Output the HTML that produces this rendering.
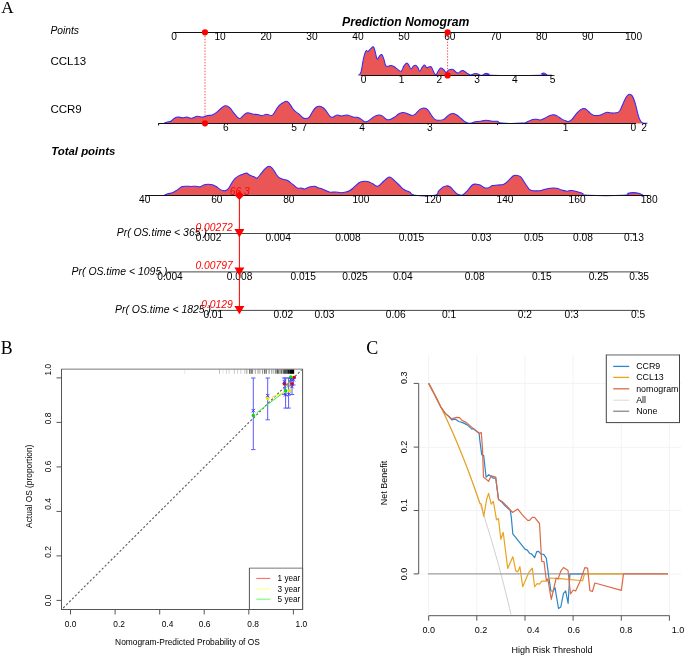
<!DOCTYPE html>
<html lang="en">
<head>
<meta charset="utf-8">
<title>Prediction Nomogram</title>
<style>
html,body{margin:0;padding:0;background:#fff;}
body{width:685px;height:656px;overflow:hidden;}
svg{display:block;font-family:"Liberation Sans",sans-serif;}
</style>
</head>
<body>
<svg width="685" height="656" viewBox="0 0 685 656">
<rect x="0" y="0" width="685" height="656" fill="#fff"/>
<g id="panelA">
<text x="1.2" y="12.7" font-size="17.2px" text-anchor="start" fill="#000" font-family="'Liberation Serif',serif">A</text>
<text x="405.7" y="26.0" font-size="12.2px" text-anchor="middle" fill="#000" font-weight="bold" font-style="italic">Prediction Nomogram</text>
<text x="50.4" y="34.0" font-size="10.3px" text-anchor="start" fill="#000" font-style="italic">Points</text>
<text x="50.4" y="64.8" font-size="11.5px" text-anchor="start" fill="#000">CCL13</text>
<text x="50.4" y="113.0" font-size="11.5px" text-anchor="start" fill="#000">CCR9</text>
<text x="51.2" y="155.4" font-size="11.4px" text-anchor="start" fill="#000" font-weight="bold" font-style="italic">Total points</text>
<path d="M205 33V123" stroke="#ff4a4a" stroke-width="1" stroke-dasharray="1.4 1.5" fill="none"/>
<path d="M447.6 33V75" stroke="#ff4a4a" stroke-width="1" stroke-dasharray="1.4 1.5" fill="none"/>
<path d="M173.6 32.5 H635.0" stroke="#111" stroke-width="1" fill="none"/>
<text x="174.2" y="40.3" font-size="10.2px" text-anchor="middle" fill="#000">0</text>
<text x="220.1" y="40.3" font-size="10.2px" text-anchor="middle" fill="#000">10</text>
<text x="266.1" y="40.3" font-size="10.2px" text-anchor="middle" fill="#000">20</text>
<text x="312.0" y="40.3" font-size="10.2px" text-anchor="middle" fill="#000">30</text>
<text x="358.0" y="40.3" font-size="10.2px" text-anchor="middle" fill="#000">40</text>
<text x="403.9" y="40.3" font-size="10.2px" text-anchor="middle" fill="#000">50</text>
<text x="449.8" y="40.3" font-size="10.2px" text-anchor="middle" fill="#000">60</text>
<text x="495.8" y="40.3" font-size="10.2px" text-anchor="middle" fill="#000">70</text>
<text x="541.7" y="40.3" font-size="10.2px" text-anchor="middle" fill="#000">80</text>
<text x="587.7" y="40.3" font-size="10.2px" text-anchor="middle" fill="#000">90</text>
<text x="633.6" y="40.3" font-size="10.2px" text-anchor="middle" fill="#000">100</text>
<path d="M358.4 75.2C358.9 74.6 360.0 75.4 361.0 72.0C362.0 68.6 362.6 62.2 363.6 58.0C364.6 53.8 365.0 52.3 365.9 51.0C366.8 49.7 367.1 51.8 368.0 51.4C368.9 51.0 369.5 49.8 370.6 48.9C371.7 48.0 372.4 46.4 373.3 46.8C374.2 47.2 374.2 48.6 375.0 51.0C375.8 53.4 376.2 57.8 377.1 58.9C378.0 60.0 378.5 57.2 379.4 56.3C380.3 55.4 380.8 54.0 381.7 54.5C382.6 55.0 383.0 56.6 383.8 58.9C384.6 61.2 384.9 64.5 385.9 65.9C386.9 67.3 387.9 66.0 389.0 65.9C390.1 65.8 390.2 65.4 391.3 65.6C392.4 65.8 393.0 66.0 394.3 66.8C395.6 67.6 396.4 68.5 397.8 69.4C399.2 70.3 400.1 71.9 401.3 71.2C402.5 70.5 402.8 67.6 403.9 65.9C405.0 64.2 405.8 62.9 406.9 62.9C408.0 62.9 408.4 64.7 409.2 65.9C410.0 67.1 410.1 68.9 411.0 68.9C411.9 68.9 412.6 66.6 413.6 65.9C414.6 65.2 415.0 65.0 415.9 65.4C416.8 65.8 417.2 66.5 418.0 67.7C418.8 68.9 418.8 71.3 419.7 71.2C420.6 71.1 421.3 68.3 422.3 67.1C423.3 65.9 423.7 64.9 424.6 65.0C425.5 65.1 425.8 67.3 426.7 67.7C427.6 68.1 428.4 66.9 429.3 66.8C430.2 66.7 430.5 66.1 431.4 67.1C432.3 68.1 432.8 70.5 433.7 72.0C434.6 73.5 435.1 74.9 436.0 74.7C436.9 74.5 437.2 72.5 438.1 71.2C439.0 69.9 439.6 68.4 440.7 68.0C441.8 67.6 442.3 68.5 443.4 69.4C444.5 70.3 445.0 72.3 446.1 72.4C447.2 72.5 447.8 70.5 448.8 69.9C449.8 69.3 450.1 69.5 451.0 69.4C451.9 69.3 452.1 68.9 453.1 69.4C454.1 69.9 454.7 71.3 455.8 72.0C456.9 72.7 457.4 73.1 458.4 72.9C459.4 72.7 459.8 71.7 460.7 71.2C461.6 70.7 461.9 70.4 462.8 70.6C463.7 70.8 464.4 71.4 465.4 72.0C466.4 72.6 466.9 73.2 468.0 73.8C469.1 74.4 469.6 74.9 470.7 75.0C471.8 75.1 472.3 74.4 473.3 74.1C474.3 73.8 474.9 73.4 475.9 73.4C476.9 73.4 477.6 73.9 478.5 74.3C479.4 74.7 479.4 75.1 480.3 75.2C481.2 75.3 482.0 75.3 482.9 75.0C483.8 74.7 483.9 74.1 484.7 73.8C485.5 73.5 486.1 73.3 487.0 73.4C487.9 73.5 488.3 73.9 489.1 74.3C489.9 74.7 480.6 75.0 490.8 75.2C501.0 75.4 529.7 75.5 539.9 75.2C550.1 74.9 540.8 74.2 541.6 73.8C542.4 73.4 542.8 73.0 543.7 73.1C544.6 73.2 545.2 73.7 546.0 74.1C546.8 74.5 546.5 75.0 547.7 75.2C548.9 75.4 551.2 75.2 552.1 75.2L552.1 75.4 L358.4 75.4 Z" fill="#ea5556" stroke="none"/>
<path d="M358.4 75.2C358.9 74.6 360.0 75.4 361.0 72.0C362.0 68.6 362.6 62.2 363.6 58.0C364.6 53.8 365.0 52.3 365.9 51.0C366.8 49.7 367.1 51.8 368.0 51.4C368.9 51.0 369.5 49.8 370.6 48.9C371.7 48.0 372.4 46.4 373.3 46.8C374.2 47.2 374.2 48.6 375.0 51.0C375.8 53.4 376.2 57.8 377.1 58.9C378.0 60.0 378.5 57.2 379.4 56.3C380.3 55.4 380.8 54.0 381.7 54.5C382.6 55.0 383.0 56.6 383.8 58.9C384.6 61.2 384.9 64.5 385.9 65.9C386.9 67.3 387.9 66.0 389.0 65.9C390.1 65.8 390.2 65.4 391.3 65.6C392.4 65.8 393.0 66.0 394.3 66.8C395.6 67.6 396.4 68.5 397.8 69.4C399.2 70.3 400.1 71.9 401.3 71.2C402.5 70.5 402.8 67.6 403.9 65.9C405.0 64.2 405.8 62.9 406.9 62.9C408.0 62.9 408.4 64.7 409.2 65.9C410.0 67.1 410.1 68.9 411.0 68.9C411.9 68.9 412.6 66.6 413.6 65.9C414.6 65.2 415.0 65.0 415.9 65.4C416.8 65.8 417.2 66.5 418.0 67.7C418.8 68.9 418.8 71.3 419.7 71.2C420.6 71.1 421.3 68.3 422.3 67.1C423.3 65.9 423.7 64.9 424.6 65.0C425.5 65.1 425.8 67.3 426.7 67.7C427.6 68.1 428.4 66.9 429.3 66.8C430.2 66.7 430.5 66.1 431.4 67.1C432.3 68.1 432.8 70.5 433.7 72.0C434.6 73.5 435.1 74.9 436.0 74.7C436.9 74.5 437.2 72.5 438.1 71.2C439.0 69.9 439.6 68.4 440.7 68.0C441.8 67.6 442.3 68.5 443.4 69.4C444.5 70.3 445.0 72.3 446.1 72.4C447.2 72.5 447.8 70.5 448.8 69.9C449.8 69.3 450.1 69.5 451.0 69.4C451.9 69.3 452.1 68.9 453.1 69.4C454.1 69.9 454.7 71.3 455.8 72.0C456.9 72.7 457.4 73.1 458.4 72.9C459.4 72.7 459.8 71.7 460.7 71.2C461.6 70.7 461.9 70.4 462.8 70.6C463.7 70.8 464.4 71.4 465.4 72.0C466.4 72.6 466.9 73.2 468.0 73.8C469.1 74.4 469.6 74.9 470.7 75.0C471.8 75.1 472.3 74.4 473.3 74.1C474.3 73.8 474.9 73.4 475.9 73.4C476.9 73.4 477.6 73.9 478.5 74.3C479.4 74.7 479.4 75.1 480.3 75.2C481.2 75.3 482.0 75.3 482.9 75.0C483.8 74.7 483.9 74.1 484.7 73.8C485.5 73.5 486.1 73.3 487.0 73.4C487.9 73.5 488.3 73.9 489.1 74.3C489.9 74.7 480.6 75.0 490.8 75.2C501.0 75.4 529.7 75.5 539.9 75.2C550.1 74.9 540.8 74.2 541.6 73.8C542.4 73.4 542.8 73.0 543.7 73.1C544.6 73.2 545.2 73.7 546.0 74.1C546.8 74.5 546.5 75.0 547.7 75.2C548.9 75.4 551.2 75.2 552.1 75.2" fill="none" stroke="#2f2aff" stroke-width="1.05"/>
<path d="M360.7 75.5 H552.6" stroke="#111" stroke-width="1" fill="none"/>
<text x="363.7" y="83.2" font-size="10.2px" text-anchor="middle" fill="#000">0</text>
<text x="401.5" y="83.2" font-size="10.2px" text-anchor="middle" fill="#000">1</text>
<text x="439.3" y="83.2" font-size="10.2px" text-anchor="middle" fill="#000">2</text>
<text x="477.1" y="83.2" font-size="10.2px" text-anchor="middle" fill="#000">3</text>
<text x="514.9" y="83.2" font-size="10.2px" text-anchor="middle" fill="#000">4</text>
<text x="552.7" y="83.2" font-size="10.2px" text-anchor="middle" fill="#000">5</text>
<path d="M164.0 123.1C164.7 122.9 166.1 122.4 167.5 122.0C168.9 121.6 169.6 122.0 171.0 121.2C172.4 120.4 173.1 119.0 174.5 118.2C175.9 117.4 176.4 117.2 178.0 117.1C179.6 117.0 180.6 117.7 182.4 117.7C184.2 117.7 184.9 117.0 186.8 117.1C188.7 117.2 189.9 118.4 192.0 118.2C194.1 118.0 195.2 116.5 197.3 116.3C199.4 116.1 200.5 117.2 202.6 117.1C204.7 117.0 205.9 116.0 207.8 115.6C209.7 115.2 210.4 115.6 212.2 115.0C214.0 114.4 214.7 113.9 216.6 112.4C218.5 110.9 220.0 109.0 221.8 107.7C223.6 106.4 224.1 105.8 225.7 105.8C227.3 105.8 228.0 106.2 229.7 107.7C231.4 109.2 232.5 111.4 234.1 113.3C235.7 115.2 236.4 116.3 237.6 117.3C238.8 118.3 238.8 118.8 239.9 118.5C241.0 118.2 241.7 116.9 242.9 115.9C244.1 114.9 244.8 113.9 246.0 113.3C247.2 112.7 247.5 112.7 249.0 112.9C250.5 113.1 251.7 113.9 253.4 114.2C255.1 114.5 256.0 114.2 257.7 114.5C259.4 114.8 260.3 115.7 262.1 115.6C263.9 115.5 264.6 114.2 266.5 114.2C268.4 114.2 269.9 115.6 271.4 115.4C272.9 115.2 272.6 115.1 274.0 113.3C275.4 111.5 276.6 108.4 278.4 106.3C280.2 104.2 281.2 103.8 282.8 102.8C284.4 101.8 285.1 101.2 286.3 101.2C287.5 101.2 287.7 101.4 288.9 102.8C290.1 104.2 291.2 106.3 292.4 108.0C293.6 109.7 293.8 110.1 295.0 111.2C296.2 112.3 296.9 112.3 298.5 113.6C300.1 114.9 301.5 116.7 302.9 117.7C304.3 118.7 304.3 118.6 305.5 118.5C306.7 118.4 307.7 118.7 309.1 117.3C310.5 115.9 311.2 113.5 312.6 111.5C314.0 109.5 314.7 108.2 316.1 107.2C317.5 106.2 318.2 106.2 319.6 106.3C321.0 106.4 321.7 106.7 323.1 107.7C324.5 108.7 325.2 109.8 326.6 111.5C328.0 113.2 328.9 115.2 330.1 116.4C331.3 117.6 331.3 117.6 332.7 117.3C334.1 117.0 335.3 115.3 337.1 115.0C338.9 114.7 339.6 115.9 341.5 115.9C343.4 115.9 344.8 114.9 346.7 115.0C348.6 115.1 349.7 115.8 351.1 116.3C352.5 116.8 352.5 117.1 353.7 117.3C354.9 117.5 355.8 117.0 357.2 117.3C358.6 117.6 359.3 118.1 360.7 118.9C362.1 119.7 363.0 121.0 364.2 121.5C365.4 122.0 365.7 121.9 366.9 121.5C368.1 121.1 368.9 120.4 370.4 119.4C371.9 118.4 372.7 117.3 374.4 116.4C376.1 115.5 377.2 115.1 378.8 115.0C380.4 114.9 380.7 115.0 382.3 115.9C383.9 116.8 385.0 118.7 386.6 119.4C388.2 120.1 388.5 119.9 390.1 119.4C391.7 118.9 392.7 118.2 394.5 117.1C396.3 116.0 397.1 114.7 398.9 113.8C400.7 112.9 401.5 112.4 403.3 112.4C405.1 112.4 406.0 113.2 407.7 113.8C409.4 114.4 410.4 115.4 412.0 115.4C413.6 115.4 414.0 115.0 415.6 113.8C417.2 112.6 418.2 110.6 419.9 109.4C421.6 108.2 422.4 107.9 424.0 108.0C425.6 108.1 426.3 108.4 427.8 109.8C429.3 111.2 429.9 113.1 431.3 115.0C432.7 116.9 433.4 118.3 434.8 119.4C436.2 120.5 436.5 120.3 438.3 120.3C440.1 120.3 441.7 120.3 443.6 119.4C445.5 118.5 446.3 116.8 448.0 115.6C449.7 114.4 450.6 113.7 452.3 113.6C454.0 113.5 454.9 114.0 456.7 115.0C458.5 116.0 459.3 117.1 461.1 118.5C462.9 119.9 464.1 121.1 465.5 122.0C466.9 122.9 466.9 122.9 468.1 123.1C469.3 123.3 470.2 123.4 471.6 123.1C473.0 122.8 473.3 122.1 475.1 121.7C476.9 121.3 478.2 121.5 480.4 121.2C482.6 120.9 483.7 120.3 486.1 120.3C488.5 120.3 490.0 121.0 492.3 121.2C494.6 121.4 495.6 120.9 497.5 121.3C499.4 121.7 497.0 122.7 501.9 123.1C506.8 123.5 516.9 123.4 522.0 123.1C527.1 122.8 525.2 122.4 527.3 121.7C529.4 121.0 530.8 120.1 532.6 119.6C534.4 119.1 534.5 119.1 536.1 119.2C537.7 119.3 538.7 120.1 540.4 119.9C542.1 119.7 542.9 119.1 544.8 118.2C546.7 117.3 548.3 116.1 550.1 115.4C551.9 114.7 552.2 114.6 553.6 114.7C555.0 114.8 555.5 115.1 557.1 115.9C558.7 116.7 559.8 117.9 561.5 118.9C563.2 119.9 564.4 120.3 565.8 120.8C567.2 121.3 567.3 121.8 568.5 121.5C569.7 121.2 570.4 121.0 572.0 119.4C573.6 117.8 574.7 115.6 576.4 113.6C578.1 111.6 579.2 110.6 580.7 109.6C582.2 108.6 582.8 108.4 584.0 108.4C585.2 108.4 585.6 108.8 586.9 109.8C588.2 110.8 588.9 112.2 590.4 113.3C591.9 114.4 592.4 115.1 594.4 115.4C596.4 115.7 598.1 115.6 600.5 115.0C602.9 114.4 604.0 112.8 606.2 112.4C608.4 112.0 609.0 113.0 611.4 112.9C613.8 112.8 616.3 113.4 618.4 112.1C620.5 110.8 620.5 109.0 621.9 106.3C623.3 103.6 624.2 100.7 625.4 98.4C626.6 96.1 627.2 95.7 628.1 94.9C629.0 94.1 628.9 94.2 629.8 94.4C630.7 94.6 631.3 94.4 632.4 96.1C633.5 97.8 634.0 99.4 635.1 102.8C636.2 106.2 636.7 109.7 637.7 113.3C638.7 116.9 639.2 118.6 640.3 120.6C641.4 122.6 641.6 122.6 643.0 123.1C644.4 123.6 646.4 123.1 647.3 123.1L647.3 123.4 L164.0 123.4 Z" fill="#ea5556" stroke="none"/>
<path d="M164.0 123.1C164.7 122.9 166.1 122.4 167.5 122.0C168.9 121.6 169.6 122.0 171.0 121.2C172.4 120.4 173.1 119.0 174.5 118.2C175.9 117.4 176.4 117.2 178.0 117.1C179.6 117.0 180.6 117.7 182.4 117.7C184.2 117.7 184.9 117.0 186.8 117.1C188.7 117.2 189.9 118.4 192.0 118.2C194.1 118.0 195.2 116.5 197.3 116.3C199.4 116.1 200.5 117.2 202.6 117.1C204.7 117.0 205.9 116.0 207.8 115.6C209.7 115.2 210.4 115.6 212.2 115.0C214.0 114.4 214.7 113.9 216.6 112.4C218.5 110.9 220.0 109.0 221.8 107.7C223.6 106.4 224.1 105.8 225.7 105.8C227.3 105.8 228.0 106.2 229.7 107.7C231.4 109.2 232.5 111.4 234.1 113.3C235.7 115.2 236.4 116.3 237.6 117.3C238.8 118.3 238.8 118.8 239.9 118.5C241.0 118.2 241.7 116.9 242.9 115.9C244.1 114.9 244.8 113.9 246.0 113.3C247.2 112.7 247.5 112.7 249.0 112.9C250.5 113.1 251.7 113.9 253.4 114.2C255.1 114.5 256.0 114.2 257.7 114.5C259.4 114.8 260.3 115.7 262.1 115.6C263.9 115.5 264.6 114.2 266.5 114.2C268.4 114.2 269.9 115.6 271.4 115.4C272.9 115.2 272.6 115.1 274.0 113.3C275.4 111.5 276.6 108.4 278.4 106.3C280.2 104.2 281.2 103.8 282.8 102.8C284.4 101.8 285.1 101.2 286.3 101.2C287.5 101.2 287.7 101.4 288.9 102.8C290.1 104.2 291.2 106.3 292.4 108.0C293.6 109.7 293.8 110.1 295.0 111.2C296.2 112.3 296.9 112.3 298.5 113.6C300.1 114.9 301.5 116.7 302.9 117.7C304.3 118.7 304.3 118.6 305.5 118.5C306.7 118.4 307.7 118.7 309.1 117.3C310.5 115.9 311.2 113.5 312.6 111.5C314.0 109.5 314.7 108.2 316.1 107.2C317.5 106.2 318.2 106.2 319.6 106.3C321.0 106.4 321.7 106.7 323.1 107.7C324.5 108.7 325.2 109.8 326.6 111.5C328.0 113.2 328.9 115.2 330.1 116.4C331.3 117.6 331.3 117.6 332.7 117.3C334.1 117.0 335.3 115.3 337.1 115.0C338.9 114.7 339.6 115.9 341.5 115.9C343.4 115.9 344.8 114.9 346.7 115.0C348.6 115.1 349.7 115.8 351.1 116.3C352.5 116.8 352.5 117.1 353.7 117.3C354.9 117.5 355.8 117.0 357.2 117.3C358.6 117.6 359.3 118.1 360.7 118.9C362.1 119.7 363.0 121.0 364.2 121.5C365.4 122.0 365.7 121.9 366.9 121.5C368.1 121.1 368.9 120.4 370.4 119.4C371.9 118.4 372.7 117.3 374.4 116.4C376.1 115.5 377.2 115.1 378.8 115.0C380.4 114.9 380.7 115.0 382.3 115.9C383.9 116.8 385.0 118.7 386.6 119.4C388.2 120.1 388.5 119.9 390.1 119.4C391.7 118.9 392.7 118.2 394.5 117.1C396.3 116.0 397.1 114.7 398.9 113.8C400.7 112.9 401.5 112.4 403.3 112.4C405.1 112.4 406.0 113.2 407.7 113.8C409.4 114.4 410.4 115.4 412.0 115.4C413.6 115.4 414.0 115.0 415.6 113.8C417.2 112.6 418.2 110.6 419.9 109.4C421.6 108.2 422.4 107.9 424.0 108.0C425.6 108.1 426.3 108.4 427.8 109.8C429.3 111.2 429.9 113.1 431.3 115.0C432.7 116.9 433.4 118.3 434.8 119.4C436.2 120.5 436.5 120.3 438.3 120.3C440.1 120.3 441.7 120.3 443.6 119.4C445.5 118.5 446.3 116.8 448.0 115.6C449.7 114.4 450.6 113.7 452.3 113.6C454.0 113.5 454.9 114.0 456.7 115.0C458.5 116.0 459.3 117.1 461.1 118.5C462.9 119.9 464.1 121.1 465.5 122.0C466.9 122.9 466.9 122.9 468.1 123.1C469.3 123.3 470.2 123.4 471.6 123.1C473.0 122.8 473.3 122.1 475.1 121.7C476.9 121.3 478.2 121.5 480.4 121.2C482.6 120.9 483.7 120.3 486.1 120.3C488.5 120.3 490.0 121.0 492.3 121.2C494.6 121.4 495.6 120.9 497.5 121.3C499.4 121.7 497.0 122.7 501.9 123.1C506.8 123.5 516.9 123.4 522.0 123.1C527.1 122.8 525.2 122.4 527.3 121.7C529.4 121.0 530.8 120.1 532.6 119.6C534.4 119.1 534.5 119.1 536.1 119.2C537.7 119.3 538.7 120.1 540.4 119.9C542.1 119.7 542.9 119.1 544.8 118.2C546.7 117.3 548.3 116.1 550.1 115.4C551.9 114.7 552.2 114.6 553.6 114.7C555.0 114.8 555.5 115.1 557.1 115.9C558.7 116.7 559.8 117.9 561.5 118.9C563.2 119.9 564.4 120.3 565.8 120.8C567.2 121.3 567.3 121.8 568.5 121.5C569.7 121.2 570.4 121.0 572.0 119.4C573.6 117.8 574.7 115.6 576.4 113.6C578.1 111.6 579.2 110.6 580.7 109.6C582.2 108.6 582.8 108.4 584.0 108.4C585.2 108.4 585.6 108.8 586.9 109.8C588.2 110.8 588.9 112.2 590.4 113.3C591.9 114.4 592.4 115.1 594.4 115.4C596.4 115.7 598.1 115.6 600.5 115.0C602.9 114.4 604.0 112.8 606.2 112.4C608.4 112.0 609.0 113.0 611.4 112.9C613.8 112.8 616.3 113.4 618.4 112.1C620.5 110.8 620.5 109.0 621.9 106.3C623.3 103.6 624.2 100.7 625.4 98.4C626.6 96.1 627.2 95.7 628.1 94.9C629.0 94.1 628.9 94.2 629.8 94.4C630.7 94.6 631.3 94.4 632.4 96.1C633.5 97.8 634.0 99.4 635.1 102.8C636.2 106.2 636.7 109.7 637.7 113.3C638.7 116.9 639.2 118.6 640.3 120.6C641.4 122.6 641.6 122.6 643.0 123.1C644.4 123.6 646.4 123.1 647.3 123.1" fill="none" stroke="#2f2aff" stroke-width="1.05"/>
<path d="M158.2 123.5 H636.0" stroke="#111" stroke-width="1" fill="none"/>
<path d="M158.6 123.5v2" stroke="#111" stroke-width="1" fill="none"/>
<path d="M497.5 123.5v1.6" stroke="#111" stroke-width="1" fill="none"/>
<text x="225.9" y="131.2" font-size="10.2px" text-anchor="middle" fill="#000">6</text>
<text x="294.0" y="131.2" font-size="10.2px" text-anchor="middle" fill="#000">5</text>
<text x="304.3" y="131.2" font-size="10.2px" text-anchor="middle" fill="#000">7</text>
<text x="362.0" y="131.2" font-size="10.2px" text-anchor="middle" fill="#000">4</text>
<text x="429.9" y="131.2" font-size="10.2px" text-anchor="middle" fill="#000">3</text>
<text x="565.5" y="131.2" font-size="10.2px" text-anchor="middle" fill="#000">1</text>
<text x="633.3" y="131.2" font-size="10.2px" text-anchor="middle" fill="#000">0</text>
<text x="644.0" y="131.2" font-size="10.2px" text-anchor="middle" fill="#000">2</text>
<path d="M164.2 195.2C164.9 194.9 166.0 194.3 167.7 193.8C169.4 193.3 171.0 193.4 172.9 192.6C174.8 191.8 175.5 191.1 177.3 189.9C179.1 188.7 179.9 187.5 181.7 186.8C183.5 186.1 184.2 186.4 186.1 186.3C188.0 186.2 189.4 186.4 191.3 186.4C193.2 186.4 193.9 186.2 195.7 186.3C197.5 186.4 198.5 187.1 200.1 186.8C201.7 186.5 202.0 185.5 203.6 185.0C205.2 184.5 206.3 184.3 208.0 184.2C209.7 184.1 210.7 184.3 212.3 184.7C213.9 185.1 214.4 185.5 215.8 186.3C217.2 187.1 218.0 188.0 219.4 188.9C220.8 189.8 221.5 190.3 222.9 190.6C224.3 190.9 225.2 190.9 226.4 190.3C227.6 189.7 228.0 189.1 229.0 187.7C230.0 186.3 230.4 185.2 231.6 183.3C232.8 181.4 233.5 180.0 235.1 178.4C236.7 176.8 237.8 176.3 239.5 175.4C241.2 174.5 242.1 174.5 243.5 174.0C244.9 173.5 245.5 172.9 246.7 173.1C247.9 173.3 248.1 174.4 249.6 175.1C251.1 175.8 252.5 176.2 254.0 176.8C255.5 177.4 255.8 178.6 257.2 178.0C258.6 177.4 259.4 175.6 261.0 173.7C262.6 171.8 263.8 169.9 265.4 168.4C267.0 166.9 267.5 166.3 268.9 166.3C270.3 166.3 271.0 166.9 272.4 168.4C273.8 169.9 274.7 171.9 275.9 173.7C277.1 175.5 277.1 176.1 278.5 177.2C279.9 178.3 281.1 178.7 282.9 179.3C284.7 179.9 285.7 179.6 287.3 180.3C288.9 181.0 289.4 181.7 290.8 182.8C292.2 183.9 292.9 184.5 294.3 185.6C295.7 186.7 296.4 187.7 297.8 188.2C299.2 188.7 299.9 187.9 301.3 188.0C302.7 188.1 303.2 189.1 304.8 188.9C306.4 188.7 307.3 187.6 309.2 187.1C311.1 186.6 312.7 186.2 314.5 186.3C316.3 186.4 316.4 187.2 318.0 187.7C319.6 188.2 320.7 188.3 322.3 188.9C323.9 189.5 324.2 189.9 325.8 190.6C327.4 191.3 328.3 191.9 330.2 192.2C332.1 192.5 333.4 191.9 335.5 192.0C337.6 192.1 338.6 192.7 340.7 192.7C342.8 192.7 344.2 192.4 346.0 192.0C347.8 191.6 348.1 191.6 349.5 190.8C350.9 190.0 351.8 189.2 353.0 188.2C354.2 187.2 353.8 187.1 355.3 185.9C356.8 184.7 358.1 183.0 360.5 182.1C362.9 181.2 365.0 181.2 367.5 181.5C370.0 181.8 370.7 182.8 372.8 183.8C374.9 184.8 375.9 186.8 378.0 186.3C380.1 185.8 381.4 183.2 383.3 181.5C385.2 179.8 386.3 178.6 387.7 177.7C389.1 176.8 389.1 176.8 390.3 177.2C391.5 177.6 392.0 178.2 393.8 179.8C395.6 181.4 397.0 183.0 399.1 185.0C401.2 187.0 402.2 188.4 404.3 189.8C406.4 191.2 407.5 190.9 409.6 192.0C411.7 193.1 409.7 194.6 414.8 195.2C419.9 195.8 430.3 196.0 435.0 195.2C439.7 194.4 436.9 192.8 438.5 191.2C440.1 189.6 441.3 188.2 442.9 187.1C444.5 186.0 445.0 186.0 446.4 185.9C447.8 185.8 448.5 185.9 449.9 186.8C451.3 187.7 452.0 188.9 453.4 190.3C454.8 191.7 455.5 192.9 456.9 193.8C458.3 194.7 459.2 194.8 460.4 195.0C461.6 195.2 461.7 195.5 463.0 194.7C464.3 193.9 465.1 193.1 467.0 191.2C468.9 189.3 470.4 186.4 472.3 185.0C474.2 183.6 475.0 184.2 476.6 184.2C478.2 184.2 478.5 184.3 480.1 185.0C481.7 185.7 482.9 187.1 484.5 187.7C486.1 188.3 486.4 188.4 488.0 188.0C489.6 187.6 490.5 186.2 492.4 185.6C494.3 185.0 495.4 185.3 497.7 185.0C500.0 184.7 501.5 185.2 503.8 184.2C506.1 183.2 507.2 181.5 509.1 179.8C511.0 178.1 512.0 176.7 513.4 175.8C514.8 174.9 514.7 175.2 516.1 175.4C517.5 175.6 518.8 175.4 520.4 176.6C522.0 177.8 522.5 179.5 523.9 181.5C525.3 183.5 526.1 185.0 527.5 186.8C528.9 188.6 528.7 189.5 531.0 190.3C533.3 191.1 536.2 190.9 538.8 190.8C541.4 190.7 541.8 190.1 544.1 189.6C546.4 189.1 547.7 188.5 550.2 188.2C552.7 187.9 554.1 187.9 556.4 188.2C558.7 188.5 559.5 189.3 561.6 189.9C563.7 190.5 565.0 191.1 566.9 191.2C568.8 191.3 569.1 190.4 571.2 190.5C573.3 190.6 575.0 191.1 577.3 191.7C579.6 192.3 580.4 192.7 582.5 193.4C584.6 194.1 579.6 194.8 587.8 195.2C596.0 195.6 615.6 195.6 623.7 195.2C631.8 194.8 626.2 193.8 628.1 193.3C630.0 192.8 631.2 192.6 633.3 192.6C635.4 192.6 636.7 192.8 638.6 193.3C640.5 193.8 642.1 194.8 643.0 195.2L643.0 195.4 L164.2 195.4 Z" fill="#ea5556" stroke="none"/>
<path d="M164.2 195.2C164.9 194.9 166.0 194.3 167.7 193.8C169.4 193.3 171.0 193.4 172.9 192.6C174.8 191.8 175.5 191.1 177.3 189.9C179.1 188.7 179.9 187.5 181.7 186.8C183.5 186.1 184.2 186.4 186.1 186.3C188.0 186.2 189.4 186.4 191.3 186.4C193.2 186.4 193.9 186.2 195.7 186.3C197.5 186.4 198.5 187.1 200.1 186.8C201.7 186.5 202.0 185.5 203.6 185.0C205.2 184.5 206.3 184.3 208.0 184.2C209.7 184.1 210.7 184.3 212.3 184.7C213.9 185.1 214.4 185.5 215.8 186.3C217.2 187.1 218.0 188.0 219.4 188.9C220.8 189.8 221.5 190.3 222.9 190.6C224.3 190.9 225.2 190.9 226.4 190.3C227.6 189.7 228.0 189.1 229.0 187.7C230.0 186.3 230.4 185.2 231.6 183.3C232.8 181.4 233.5 180.0 235.1 178.4C236.7 176.8 237.8 176.3 239.5 175.4C241.2 174.5 242.1 174.5 243.5 174.0C244.9 173.5 245.5 172.9 246.7 173.1C247.9 173.3 248.1 174.4 249.6 175.1C251.1 175.8 252.5 176.2 254.0 176.8C255.5 177.4 255.8 178.6 257.2 178.0C258.6 177.4 259.4 175.6 261.0 173.7C262.6 171.8 263.8 169.9 265.4 168.4C267.0 166.9 267.5 166.3 268.9 166.3C270.3 166.3 271.0 166.9 272.4 168.4C273.8 169.9 274.7 171.9 275.9 173.7C277.1 175.5 277.1 176.1 278.5 177.2C279.9 178.3 281.1 178.7 282.9 179.3C284.7 179.9 285.7 179.6 287.3 180.3C288.9 181.0 289.4 181.7 290.8 182.8C292.2 183.9 292.9 184.5 294.3 185.6C295.7 186.7 296.4 187.7 297.8 188.2C299.2 188.7 299.9 187.9 301.3 188.0C302.7 188.1 303.2 189.1 304.8 188.9C306.4 188.7 307.3 187.6 309.2 187.1C311.1 186.6 312.7 186.2 314.5 186.3C316.3 186.4 316.4 187.2 318.0 187.7C319.6 188.2 320.7 188.3 322.3 188.9C323.9 189.5 324.2 189.9 325.8 190.6C327.4 191.3 328.3 191.9 330.2 192.2C332.1 192.5 333.4 191.9 335.5 192.0C337.6 192.1 338.6 192.7 340.7 192.7C342.8 192.7 344.2 192.4 346.0 192.0C347.8 191.6 348.1 191.6 349.5 190.8C350.9 190.0 351.8 189.2 353.0 188.2C354.2 187.2 353.8 187.1 355.3 185.9C356.8 184.7 358.1 183.0 360.5 182.1C362.9 181.2 365.0 181.2 367.5 181.5C370.0 181.8 370.7 182.8 372.8 183.8C374.9 184.8 375.9 186.8 378.0 186.3C380.1 185.8 381.4 183.2 383.3 181.5C385.2 179.8 386.3 178.6 387.7 177.7C389.1 176.8 389.1 176.8 390.3 177.2C391.5 177.6 392.0 178.2 393.8 179.8C395.6 181.4 397.0 183.0 399.1 185.0C401.2 187.0 402.2 188.4 404.3 189.8C406.4 191.2 407.5 190.9 409.6 192.0C411.7 193.1 409.7 194.6 414.8 195.2C419.9 195.8 430.3 196.0 435.0 195.2C439.7 194.4 436.9 192.8 438.5 191.2C440.1 189.6 441.3 188.2 442.9 187.1C444.5 186.0 445.0 186.0 446.4 185.9C447.8 185.8 448.5 185.9 449.9 186.8C451.3 187.7 452.0 188.9 453.4 190.3C454.8 191.7 455.5 192.9 456.9 193.8C458.3 194.7 459.2 194.8 460.4 195.0C461.6 195.2 461.7 195.5 463.0 194.7C464.3 193.9 465.1 193.1 467.0 191.2C468.9 189.3 470.4 186.4 472.3 185.0C474.2 183.6 475.0 184.2 476.6 184.2C478.2 184.2 478.5 184.3 480.1 185.0C481.7 185.7 482.9 187.1 484.5 187.7C486.1 188.3 486.4 188.4 488.0 188.0C489.6 187.6 490.5 186.2 492.4 185.6C494.3 185.0 495.4 185.3 497.7 185.0C500.0 184.7 501.5 185.2 503.8 184.2C506.1 183.2 507.2 181.5 509.1 179.8C511.0 178.1 512.0 176.7 513.4 175.8C514.8 174.9 514.7 175.2 516.1 175.4C517.5 175.6 518.8 175.4 520.4 176.6C522.0 177.8 522.5 179.5 523.9 181.5C525.3 183.5 526.1 185.0 527.5 186.8C528.9 188.6 528.7 189.5 531.0 190.3C533.3 191.1 536.2 190.9 538.8 190.8C541.4 190.7 541.8 190.1 544.1 189.6C546.4 189.1 547.7 188.5 550.2 188.2C552.7 187.9 554.1 187.9 556.4 188.2C558.7 188.5 559.5 189.3 561.6 189.9C563.7 190.5 565.0 191.1 566.9 191.2C568.8 191.3 569.1 190.4 571.2 190.5C573.3 190.6 575.0 191.1 577.3 191.7C579.6 192.3 580.4 192.7 582.5 193.4C584.6 194.1 579.6 194.8 587.8 195.2C596.0 195.6 615.6 195.6 623.7 195.2C631.8 194.8 626.2 193.8 628.1 193.3C630.0 192.8 631.2 192.6 633.3 192.6C635.4 192.6 636.7 192.8 638.6 193.3C640.5 193.8 642.1 194.8 643.0 195.2" fill="none" stroke="#2f2aff" stroke-width="1.05"/>
<path d="M144.9 195.5 H649.3" stroke="#111" stroke-width="1" fill="none"/>
<text x="144.7" y="203.2" font-size="10.2px" text-anchor="middle" fill="#000">40</text>
<text x="216.8" y="203.2" font-size="10.2px" text-anchor="middle" fill="#000">60</text>
<text x="288.8" y="203.2" font-size="10.2px" text-anchor="middle" fill="#000">80</text>
<text x="360.9" y="203.2" font-size="10.2px" text-anchor="middle" fill="#000">100</text>
<text x="433.0" y="203.2" font-size="10.2px" text-anchor="middle" fill="#000">120</text>
<text x="505.0" y="203.2" font-size="10.2px" text-anchor="middle" fill="#000">140</text>
<text x="577.1" y="203.2" font-size="10.2px" text-anchor="middle" fill="#000">160</text>
<text x="649.2" y="203.2" font-size="10.2px" text-anchor="middle" fill="#000">180</text>
<path d="M207.5 233.5 H634.3" stroke="#333" stroke-width="0.9" fill="none"/>
<path d="M208.6 233.5v2" stroke="#333" stroke-width="0.9" fill="none"/>
<text x="208.6" y="241.4" font-size="10.2px" text-anchor="middle" fill="#000">0.002</text>
<path d="M278.2 233.5v2" stroke="#333" stroke-width="0.9" fill="none"/>
<text x="278.2" y="241.4" font-size="10.2px" text-anchor="middle" fill="#000">0.004</text>
<path d="M347.9 233.5v2" stroke="#333" stroke-width="0.9" fill="none"/>
<text x="347.9" y="241.4" font-size="10.2px" text-anchor="middle" fill="#000">0.008</text>
<path d="M411.4 233.5v2" stroke="#333" stroke-width="0.9" fill="none"/>
<text x="411.4" y="241.4" font-size="10.2px" text-anchor="middle" fill="#000">0.015</text>
<path d="M481.4 233.5v2" stroke="#333" stroke-width="0.9" fill="none"/>
<text x="481.4" y="241.4" font-size="10.2px" text-anchor="middle" fill="#000">0.03</text>
<path d="M533.8 233.5v2" stroke="#333" stroke-width="0.9" fill="none"/>
<text x="533.8" y="241.4" font-size="10.2px" text-anchor="middle" fill="#000">0.05</text>
<path d="M582.9 233.5v2" stroke="#333" stroke-width="0.9" fill="none"/>
<text x="582.9" y="241.4" font-size="10.2px" text-anchor="middle" fill="#000">0.08</text>
<path d="M634.0 233.5v2" stroke="#333" stroke-width="0.9" fill="none"/>
<text x="634.0" y="241.4" font-size="10.2px" text-anchor="middle" fill="#000">0.13</text>
<text x="206.9" y="236.4" font-size="10.45px" text-anchor="end" fill="#000" font-style="italic">Pr( OS.time &lt; 365 )</text>
<path d="M167.5 271.9 H639.7" stroke="#333" stroke-width="0.9" fill="none"/>
<path d="M170.0 271.9v2" stroke="#333" stroke-width="0.9" fill="none"/>
<text x="170.0" y="279.8" font-size="10.2px" text-anchor="middle" fill="#000">0.004</text>
<path d="M239.6 271.9v2" stroke="#333" stroke-width="0.9" fill="none"/>
<text x="239.6" y="279.8" font-size="10.2px" text-anchor="middle" fill="#000">0.008</text>
<path d="M303.2 271.9v2" stroke="#333" stroke-width="0.9" fill="none"/>
<text x="303.2" y="279.8" font-size="10.2px" text-anchor="middle" fill="#000">0.015</text>
<path d="M354.9 271.9v2" stroke="#333" stroke-width="0.9" fill="none"/>
<text x="354.9" y="279.8" font-size="10.2px" text-anchor="middle" fill="#000">0.025</text>
<path d="M402.8 271.9v2" stroke="#333" stroke-width="0.9" fill="none"/>
<text x="402.8" y="279.8" font-size="10.2px" text-anchor="middle" fill="#000">0.04</text>
<path d="M474.7 271.9v2" stroke="#333" stroke-width="0.9" fill="none"/>
<text x="474.7" y="279.8" font-size="10.2px" text-anchor="middle" fill="#000">0.08</text>
<path d="M541.8 271.9v2" stroke="#333" stroke-width="0.9" fill="none"/>
<text x="541.8" y="279.8" font-size="10.2px" text-anchor="middle" fill="#000">0.15</text>
<path d="M598.6 271.9v2" stroke="#333" stroke-width="0.9" fill="none"/>
<text x="598.6" y="279.8" font-size="10.2px" text-anchor="middle" fill="#000">0.25</text>
<path d="M639.1 271.9v2" stroke="#333" stroke-width="0.9" fill="none"/>
<text x="639.1" y="279.8" font-size="10.2px" text-anchor="middle" fill="#000">0.35</text>
<text x="167.6" y="274.8" font-size="10.45px" text-anchor="end" fill="#000" font-style="italic">Pr( OS.time &lt; 1095 )</text>
<path d="M211.0 310.4 H638.2" stroke="#333" stroke-width="0.9" fill="none"/>
<path d="M213.3 310.4v2" stroke="#333" stroke-width="0.9" fill="none"/>
<text x="213.3" y="318.3" font-size="10.2px" text-anchor="middle" fill="#000">0.01</text>
<path d="M283.3 310.4v2" stroke="#333" stroke-width="0.9" fill="none"/>
<text x="283.3" y="318.3" font-size="10.2px" text-anchor="middle" fill="#000">0.02</text>
<path d="M324.4 310.4v2" stroke="#333" stroke-width="0.9" fill="none"/>
<text x="324.4" y="318.3" font-size="10.2px" text-anchor="middle" fill="#000">0.03</text>
<path d="M395.7 310.4v2" stroke="#333" stroke-width="0.9" fill="none"/>
<text x="395.7" y="318.3" font-size="10.2px" text-anchor="middle" fill="#000">0.06</text>
<path d="M449.0 310.4v2" stroke="#333" stroke-width="0.9" fill="none"/>
<text x="449.0" y="318.3" font-size="10.2px" text-anchor="middle" fill="#000">0.1</text>
<path d="M524.8 310.4v2" stroke="#333" stroke-width="0.9" fill="none"/>
<text x="524.8" y="318.3" font-size="10.2px" text-anchor="middle" fill="#000">0.2</text>
<path d="M571.7 310.4v2" stroke="#333" stroke-width="0.9" fill="none"/>
<text x="571.7" y="318.3" font-size="10.2px" text-anchor="middle" fill="#000">0.3</text>
<path d="M638.1 310.4v2" stroke="#333" stroke-width="0.9" fill="none"/>
<text x="638.1" y="318.3" font-size="10.2px" text-anchor="middle" fill="#000">0.5</text>
<text x="211.0" y="313.3" font-size="10.45px" text-anchor="end" fill="#000" font-style="italic">Pr( OS.time &lt; 1825 )</text>
<circle cx="205" cy="32.3" r="3.1" fill="#f00"/>
<circle cx="205" cy="123.3" r="3.1" fill="#f00"/>
<circle cx="447.6" cy="32.3" r="3.1" fill="#f00"/>
<circle cx="447.6" cy="75.4" r="3.1" fill="#f00"/>
<path d="M239.45 195.3V313" stroke="#ff1a1a" stroke-width="1.15" fill="none"/>
<path d="M239.4 191.1l4.4 4.4l-4.4 4.4l-4.4 -4.4z" fill="#f00"/>
<path d="M234.4 229.1h10l-5 8.3z" fill="#f00"/>
<text x="232.7" y="230.8" font-size="10.3px" text-anchor="end" fill="#f00" font-style="italic">0.00272</text>
<path d="M234.4 267.5h10l-5 8.3z" fill="#f00"/>
<text x="232.7" y="269.2" font-size="10.3px" text-anchor="end" fill="#f00" font-style="italic">0.00797</text>
<path d="M234.4 306.0h10l-5 8.3z" fill="#f00"/>
<text x="232.7" y="307.7" font-size="10.3px" text-anchor="end" fill="#f00" font-style="italic">0.0129</text>
<text x="239.7" y="194.6" font-size="10.3px" text-anchor="middle" fill="#f00" font-style="italic">66.3</text>
</g>
<g id="panelB">
<text x="0.8" y="353.8" font-size="17.8px" text-anchor="start" fill="#000" font-family="'Liberation Serif',serif">B</text>
<rect x="61.5" y="369.3" width="241.1" height="240.2" stroke="#555" stroke-width="1" fill="none"/>
<path d="M62 369.2H302.1" stroke="#bdbdbd" stroke-width="1.2" fill="none"/>
<path d="M70.5 609.5v5" stroke="#555" stroke-width="1" fill="none"/>
<path d="M115.1 609.5v5" stroke="#555" stroke-width="1" fill="none"/>
<path d="M159.7 609.5v5" stroke="#555" stroke-width="1" fill="none"/>
<path d="M204.2 609.5v5" stroke="#555" stroke-width="1" fill="none"/>
<path d="M248.8 609.5v5" stroke="#555" stroke-width="1" fill="none"/>
<path d="M293.4 609.5v5" stroke="#555" stroke-width="1" fill="none"/>
<path d="M61.5 600.4h-5" stroke="#555" stroke-width="1" fill="none"/>
<path d="M61.5 555.9h-5" stroke="#555" stroke-width="1" fill="none"/>
<path d="M61.5 511.4h-5" stroke="#555" stroke-width="1" fill="none"/>
<path d="M61.5 466.9h-5" stroke="#555" stroke-width="1" fill="none"/>
<path d="M61.5 422.4h-5" stroke="#555" stroke-width="1" fill="none"/>
<path d="M61.5 377.9h-5" stroke="#555" stroke-width="1" fill="none"/>
<text x="70.6" y="626.5" font-size="8.4px" text-anchor="middle" fill="#000">0.0</text>
<text x="50.6" y="600.4" font-size="8.4px" text-anchor="middle" fill="#000" transform="rotate(-90 50.6 600.4)">0.0</text>
<text x="119.1" y="626.5" font-size="8.4px" text-anchor="middle" fill="#000">0.2</text>
<text x="50.6" y="552.0" font-size="8.4px" text-anchor="middle" fill="#000" transform="rotate(-90 50.6 552.0)">0.2</text>
<text x="167.5" y="626.5" font-size="8.4px" text-anchor="middle" fill="#000">0.4</text>
<text x="50.6" y="504.0" font-size="8.4px" text-anchor="middle" fill="#000" transform="rotate(-90 50.6 504.0)">0.4</text>
<text x="204.7" y="626.5" font-size="8.4px" text-anchor="middle" fill="#000">0.6</text>
<text x="50.6" y="466.5" font-size="8.4px" text-anchor="middle" fill="#000" transform="rotate(-90 50.6 466.5)">0.6</text>
<text x="253.2" y="626.5" font-size="8.4px" text-anchor="middle" fill="#000">0.8</text>
<text x="50.6" y="418.4" font-size="8.4px" text-anchor="middle" fill="#000" transform="rotate(-90 50.6 418.4)">0.8</text>
<text x="301.4" y="626.5" font-size="8.4px" text-anchor="middle" fill="#000">1.0</text>
<text x="50.6" y="369.6" font-size="8.4px" text-anchor="middle" fill="#000" transform="rotate(-90 50.6 369.6)">1.0</text>
<text x="187.5" y="645.0" font-size="8.4px" text-anchor="middle" fill="#000">Nomogram-Predicted Probability of OS</text>
<text x="31.8" y="486.3" font-size="8.4px" text-anchor="middle" fill="#000" transform="rotate(-90 31.8 486.3)">Actual OS (proportion)</text>
<path d="M63.2 608L301.5 370" stroke="#5a5a5a" stroke-width="1.1" stroke-dasharray="2.2 2" fill="none"/>
<path d="M184.7 369.6V373.8" stroke="#000" stroke-opacity="0.12" stroke-width="0.8"/><path d="M219.5 369.6V373.8" stroke="#000" stroke-opacity="0.28" stroke-width="0.9"/><path d="M223.1 369.6V373.8" stroke="#000" stroke-opacity="0.12" stroke-width="0.8"/><path d="M226.4 369.6V373.8" stroke="#000" stroke-opacity="0.20" stroke-width="0.9"/><path d="M229.1 369.6V373.8" stroke="#000" stroke-opacity="0.20" stroke-width="0.9"/><path d="M234.3 369.6V373.8" stroke="#000" stroke-opacity="0.28" stroke-width="0.9"/><path d="M237.6 369.6V373.8" stroke="#000" stroke-opacity="0.22" stroke-width="0.9"/><path d="M240.9 369.6V373.8" stroke="#000" stroke-opacity="0.22" stroke-width="0.9"/><path d="M244.8 369.6V373.8" stroke="#000" stroke-opacity="0.25" stroke-width="0.9"/><path d="M246.8 369.6V373.8" stroke="#000" stroke-opacity="0.40" stroke-width="1.0"/><path d="M249.6 369.6V373.8" stroke="#000" stroke-opacity="0.55" stroke-width="1.2"/><path d="M251.2 369.6V373.8" stroke="#000" stroke-opacity="0.60" stroke-width="1.2"/><path d="M252.6 369.6V373.8" stroke="#000" stroke-opacity="0.50" stroke-width="1.0"/><path d="M255.3 369.6V373.8" stroke="#000" stroke-opacity="0.35" stroke-width="1.0"/><path d="M258.0 369.6V373.8" stroke="#000" stroke-opacity="0.40" stroke-width="1.0"/><path d="M259.9 369.6V373.8" stroke="#000" stroke-opacity="0.35" stroke-width="1.0"/><path d="M262.6 369.6V373.8" stroke="#000" stroke-opacity="0.45" stroke-width="1.0"/><path d="M264.6 369.6V373.8" stroke="#000" stroke-opacity="0.60" stroke-width="1.1"/><path d="M266.2 369.6V373.8" stroke="#000" stroke-opacity="0.65" stroke-width="1.1"/><path d="M269.1 369.6V373.8" stroke="#000" stroke-opacity="0.50" stroke-width="1.0"/><path d="M271.8 369.6V373.8" stroke="#000" stroke-opacity="0.45" stroke-width="1.0"/><path d="M273.8 369.6V373.8" stroke="#000" stroke-opacity="0.35" stroke-width="1.0"/><path d="M275.9 369.6V373.8" stroke="#000" stroke-opacity="0.65" stroke-width="1.1"/><path d="M277.4 369.6V373.8" stroke="#000" stroke-opacity="0.70" stroke-width="1.1"/><path d="M278.6 369.6V373.8" stroke="#000" stroke-opacity="0.55" stroke-width="1.0"/><path d="M280.0 369.6V373.8" stroke="#000" stroke-opacity="0.60" stroke-width="1.0"/><path d="M281.4 369.6V373.8" stroke="#000" stroke-opacity="0.65" stroke-width="1.0"/><path d="M283.2 369.6V373.8" stroke="#000" stroke-opacity="0.70" stroke-width="1.2"/><path d="M284.5 369.6V373.8" stroke="#000" stroke-opacity="0.72" stroke-width="1.2"/><path d="M285.8 369.6V373.8" stroke="#000" stroke-opacity="0.78" stroke-width="1.3"/><path d="M287.1 369.6V373.8" stroke="#000" stroke-opacity="0.85" stroke-width="1.3"/><path d="M288.4 369.6V373.8" stroke="#000" stroke-opacity="0.90" stroke-width="1.3"/>
<rect x="289.2" y="369.6" width="5" height="4.2" fill="#000"/>
<path d="M253.3 378.0V449.6M251.1 378.0h4.4M251.1 449.6h4.4" stroke="#5c5cf8" stroke-width="1" fill="none"/>
<path d="M267.7 378.0V419.8M265.5 378.0h4.4M265.5 419.8h4.4" stroke="#5c5cf8" stroke-width="1" fill="none"/>
<path d="M285.6 378.0V408.1M283.4 378.0h4.4M283.4 408.1h4.4" stroke="#5c5cf8" stroke-width="1" fill="none"/>
<path d="M288.6 378.0V408.1M286.4 378.0h4.4M286.4 408.1h4.4" stroke="#5c5cf8" stroke-width="1" fill="none"/>
<path d="M292.0 378.0V394.5M289.8 378.0h4.4M289.8 394.5h4.4" stroke="#5c5cf8" stroke-width="1" fill="none"/>
<path d="M284.3 378.0V394.5M282.1 378.0h4.4M282.1 394.5h4.4" stroke="#5c5cf8" stroke-width="1" fill="none"/>
<path d="M290.6 378.0V386.0M288.4 378.0h4.4M288.4 386.0h4.4" stroke="#5c5cf8" stroke-width="1" fill="none"/>
<path d="M293.3 378.0V385.0M291.1 378.0h4.4M291.1 385.0h4.4" stroke="#5c5cf8" stroke-width="1" fill="none"/>
<path d="M256.6 412.9L282.8 393M287 387.6L289.6 380.4" stroke="#33ee33" stroke-width="1" fill="none"/>
<path d="M271.6 397.2L285.3 392M290.3 387.5L292.4 381.5" stroke="#f2f230" stroke-width="1.1" fill="none"/>
<path d="M286.8 383.9L289.6 383.9" stroke="#ff4040" stroke-width="1" fill="none"/>
<circle cx="253.3" cy="415.4" r="1.75" fill="#00e000"/>
<circle cx="285.7" cy="390.8" r="1.75" fill="#00e000"/>
<circle cx="267.7" cy="398.6" r="1.75" fill="#f0e000"/>
<circle cx="289.5" cy="390.8" r="1.75" fill="#f0e000"/>
<circle cx="293.4" cy="377.6" r="1.75" fill="#f0e000"/>
<circle cx="284.3" cy="383.7" r="1.75" fill="#e00020"/>
<circle cx="292.1" cy="383.8" r="1.75" fill="#e00020"/>
<circle cx="294.2" cy="377.4" r="1.75" fill="#e00020"/>
<circle cx="290.7" cy="377.0" r="1.75" fill="#00e000"/>
<path d="M251.6 408.9l3.4 3.4M251.6 412.3l3.4 -3.4" stroke="#2a2aff" stroke-width="0.9" fill="none"/>
<path d="M266.0 393.9l3.4 3.4M266.0 397.3l3.4 -3.4" stroke="#2a2aff" stroke-width="0.9" fill="none"/>
<path d="M283.9 393.1l3.4 3.4M283.9 396.5l3.4 -3.4" stroke="#2a2aff" stroke-width="0.9" fill="none"/>
<path d="M287.1 392.6l3.4 3.4M287.1 396.0l3.4 -3.4" stroke="#2a2aff" stroke-width="0.9" fill="none"/>
<path d="M290.3 384.9l3.4 3.4M290.3 388.3l3.4 -3.4" stroke="#2a2aff" stroke-width="0.9" fill="none"/>
<path d="M282.6 379.9l3.4 3.4M282.6 383.3l3.4 -3.4" stroke="#2a2aff" stroke-width="0.9" fill="none"/>
<path d="M289.1 377.9l3.4 3.4M289.1 381.3l3.4 -3.4" stroke="#2a2aff" stroke-width="0.9" fill="none"/>
<path d="M291.7 378.1l3.4 3.4M291.7 381.5l3.4 -3.4" stroke="#2a2aff" stroke-width="0.9" fill="none"/>
<rect x="249.4" y="568.3" width="53.2" height="41.2" fill="#fff" stroke="#555" stroke-width="1"/>
<path d="M249.9 568.3H302.1" stroke="#a8a8a8" stroke-width="1.2" fill="none"/>
<path d="M256.3 578.4H270.3" stroke="#ff6060" stroke-width="1" fill="none"/>
<text x="277.6" y="581.1" font-size="8.2px" text-anchor="start" fill="#000">1 year</text>
<path d="M256.3 588.9H270.3" stroke="#ffff80" stroke-width="1" fill="none"/>
<text x="277.6" y="591.6" font-size="8.2px" text-anchor="start" fill="#000">3 year</text>
<path d="M256.3 599.2H270.3" stroke="#60ff60" stroke-width="1" fill="none"/>
<text x="277.6" y="601.9" font-size="8.2px" text-anchor="start" fill="#000">5 year</text>
</g>
<g id="panelC">
<text x="366.3" y="353.9" font-size="18px" text-anchor="start" fill="#000" font-family="'Liberation Serif',serif">C</text>
<path d="M428.7 354.5V615.5" stroke="#f3f3f3" stroke-width="1" fill="none"/>
<path d="M476.8 354.5V615.5" stroke="#f3f3f3" stroke-width="1" fill="none"/>
<path d="M525.0 354.5V615.5" stroke="#f3f3f3" stroke-width="1" fill="none"/>
<path d="M573.1 354.5V615.5" stroke="#f3f3f3" stroke-width="1" fill="none"/>
<path d="M621.3 354.5V615.5" stroke="#f3f3f3" stroke-width="1" fill="none"/>
<path d="M669.4 354.5V615.5" stroke="#f3f3f3" stroke-width="1" fill="none"/>
<path d="M419.5 573.9H681" stroke="#f3f3f3" stroke-width="1" fill="none"/>
<path d="M419.5 510.5H681" stroke="#f3f3f3" stroke-width="1" fill="none"/>
<path d="M419.5 447.3H681" stroke="#f3f3f3" stroke-width="1" fill="none"/>
<path d="M419.5 383.4H681" stroke="#f3f3f3" stroke-width="1" fill="none"/>
<path d="M428.7 383.4L430.1 385.9L431.4 388.5L432.8 391.1L434.2 393.8L435.6 396.4L436.9 399.1L438.3 401.9L439.7 404.6L441.0 407.4L442.4 410.3L443.8 413.1L445.2 416.0L446.5 419.0L447.9 421.9L449.3 425.0L450.7 428.0L452.0 431.1L453.4 434.2L454.8 437.4L456.1 440.6L457.5 443.8L458.9 447.1L460.3 450.5L461.6 453.8L463.0 457.3L464.4 460.7L465.7 464.3L467.1 467.8L468.5 471.4L469.9 475.1L471.2 478.8L472.6 482.6L474.0 486.4L475.3 490.3L476.7 494.2L478.1 498.2L479.5 502.2L480.8 506.3L482.2 510.5L483.6 514.7L485.0 519.0L486.3 523.3L487.7 527.7L489.1 532.2L490.4 536.7L491.8 541.4L493.2 546.1L494.6 550.8L495.9 555.7L497.3 560.6L498.7 565.6L500.0 570.7L501.4 575.8L502.8 581.1L504.2 586.4L505.5 591.8L506.9 597.3L508.3 602.9L509.6 608.6L511.0 614.4" stroke="#cfcfcf" stroke-width="1" fill="none"/>
<path d="M428 573.9H668" stroke="#a0a0a0" stroke-width="1.3" fill="none"/>
<path d="M428.7 383.4L431.1 387.9L433.5 392.5L435.9 397.1L438.3 401.9L440.7 406.8L445.2 413.4L449.0 416.5L452.0 420.0L455.1 419.1L458.9 421.5L462.7 422.6L467.3 424.9L471.8 429.1L473.4 428.7L479.1 433.3L479.8 440.1L481.7 454.6L483.7 455.6L486.1 477.1L488.9 474.7L493.4 478.2L495.7 477.9L498.5 499.5L501.8 502.1L505.6 506.4L510.2 510.2L511.3 517.1L512.8 533.8L525.0 549.1L527.3 550.1L529.5 553.2L531.8 554.1L534.6 557.7L536.7 551.6L538.7 551.3L541.0 554.1L543.7 554.4L546.3 558.2L548.6 575.7L550.9 591.0L553.2 591.0L555.0 587.6L558.5 608.5L560.8 607.0L563.5 593.3L565.7 591.0L568.1 603.5L569.9 574.0L586.0 573.9" stroke="#2e86c8" stroke-width="1.2" stroke-linejoin="round" fill="none"/>
<path d="M428.7 383.4L431.3 388.2L433.8 393.0L436.4 398.0L438.9 403.1L441.5 408.3L444.0 413.6L446.6 419.0L449.1 424.6L451.7 430.3L454.2 436.1L456.8 442.1L459.3 448.2L461.9 454.4L464.4 460.9L467.0 467.4L469.5 474.2L472.1 481.1L474.6 488.2L477.2 495.5L479.7 503.0L481.3 504.1L483.8 516.3L486.6 499.5L488.6 493.4L491.2 504.1L493.4 501.5L496.5 519.8L498.5 518.6L500.8 539.3L503.2 532.3L507.7 568.4L512.8 556.7L515.8 570.9L517.8 571.9L519.9 566.6L522.7 586.7L528.8 572.4L532.3 568.1L534.6 586.7L537.2 583.7L539.5 584.1L541.7 581.1L547.1 581.1L549.4 578.0L560.0 578.6L580.0 580.5L582.5 580.7L584.6 573.9L623.0 573.9" stroke="#eaa321" stroke-width="1.2" stroke-linejoin="round" fill="none"/>
<path d="M428.7 383.4L431.1 387.9L433.5 392.5L435.9 397.1L438.3 401.9L440.7 406.8L445.2 413.4L451.3 418.8L456.6 417.3L459.6 417.6L461.9 420.3L466.5 422.6L472.6 427.9L479.1 433.3L481.3 432.5L482.5 449.3L483.5 477.1L488.6 481.3L491.2 475.9L495.7 477.1L498.5 499.5L502.6 501.8L507.2 506.4L512.5 512.5L517.8 509.1L522.4 514.8L527.7 520.4L529.6 520.4L532.3 517.4L534.6 517.4L539.5 523.5L541.7 561.3L544.0 561.6L546.3 580.3L547.8 578.8L551.3 599.4L556.2 578.0L558.0 579.1L560.8 571.2L563.5 567.5L568.0 570.4L570.5 593.8L573.3 590.0L575.6 591.0L580.0 581.4L584.8 567.7L587.6 568.1L589.9 590.6L592.4 591.5L594.9 583.0L621.4 590.4L623.5 573.9L668.0 573.9" stroke="#dc6a48" stroke-width="1.2" stroke-linejoin="round" fill="none"/>
<path d="M418.7 383.4V615.7H669.6" stroke="none" fill="none"/>
<path d="M418.7 383.4V574" stroke="#555" stroke-width="1" fill="none"/>
<path d="M428.7 615.7H669.6" stroke="#555" stroke-width="1" fill="none"/>
<path d="M428.7 615.7v5" stroke="#555" stroke-width="1" fill="none"/>
<path d="M476.8 615.7v5" stroke="#555" stroke-width="1" fill="none"/>
<path d="M525.0 615.7v5" stroke="#555" stroke-width="1" fill="none"/>
<path d="M573.1 615.7v5" stroke="#555" stroke-width="1" fill="none"/>
<path d="M621.3 615.7v5" stroke="#555" stroke-width="1" fill="none"/>
<path d="M669.4 615.7v5" stroke="#555" stroke-width="1" fill="none"/>
<path d="M418.7 573.9h-5" stroke="#555" stroke-width="1" fill="none"/>
<path d="M418.7 510.5h-5" stroke="#555" stroke-width="1" fill="none"/>
<path d="M418.7 447.1h-5" stroke="#555" stroke-width="1" fill="none"/>
<path d="M418.7 383.4h-5" stroke="#555" stroke-width="1" fill="none"/>
<text x="428.7" y="633.0" font-size="9px" text-anchor="middle" fill="#000">0.0</text>
<text x="481.0" y="633.0" font-size="9px" text-anchor="middle" fill="#000">0.2</text>
<text x="533.3" y="633.0" font-size="9px" text-anchor="middle" fill="#000">0.4</text>
<text x="573.7" y="633.0" font-size="9px" text-anchor="middle" fill="#000">0.6</text>
<text x="626.1" y="633.0" font-size="9px" text-anchor="middle" fill="#000">0.8</text>
<text x="677.9" y="633.0" font-size="9px" text-anchor="middle" fill="#000">1.0</text>
<text x="407.0" y="574.0" font-size="9px" text-anchor="middle" fill="#000" transform="rotate(-90 407.0 574.0)">0.0</text>
<text x="407.0" y="505.2" font-size="9px" text-anchor="middle" fill="#000" transform="rotate(-90 407.0 505.2)">0.1</text>
<text x="407.0" y="447.0" font-size="9px" text-anchor="middle" fill="#000" transform="rotate(-90 407.0 447.0)">0.2</text>
<text x="407.0" y="377.8" font-size="9px" text-anchor="middle" fill="#000" transform="rotate(-90 407.0 377.8)">0.3</text>
<text x="552.0" y="653.0" font-size="9px" text-anchor="middle" fill="#000">High Risk Threshold</text>
<text x="387.0" y="483.0" font-size="9px" text-anchor="middle" fill="#000" transform="rotate(-90 387.0 483.0)">Net Benefit</text>
<rect x="606.3" y="354.9" width="73.2" height="67.7" fill="#fff" stroke="#444" stroke-width="1"/>
<path d="M606.8 354.9H679" stroke="#b5b5b5" stroke-width="1.2" fill="none"/>
<path d="M613.2 366.4H629.2" stroke="#2e86c8" stroke-width="1.3" fill="none"/>
<text x="636.2" y="369.4" font-size="8.85px" text-anchor="start" fill="#000">CCR9</text>
<path d="M613.2 377.4H629.2" stroke="#eaa321" stroke-width="1.3" fill="none"/>
<text x="636.2" y="380.4" font-size="8.85px" text-anchor="start" fill="#000">CCL13</text>
<path d="M613.2 388.8H629.2" stroke="#dc6a48" stroke-width="1.3" fill="none"/>
<text x="636.2" y="391.8" font-size="8.85px" text-anchor="start" fill="#000">nomogram</text>
<path d="M613.2 400.2H629.2" stroke="#d8d8d8" stroke-width="1" fill="none"/>
<text x="636.2" y="403.2" font-size="8.85px" text-anchor="start" fill="#000">All</text>
<path d="M613.2 411.2H629.2" stroke="#555" stroke-width="0.9" fill="none"/>
<text x="636.2" y="414.2" font-size="8.85px" text-anchor="start" fill="#000">None</text>
</g>
</svg>
</body>
</html>
